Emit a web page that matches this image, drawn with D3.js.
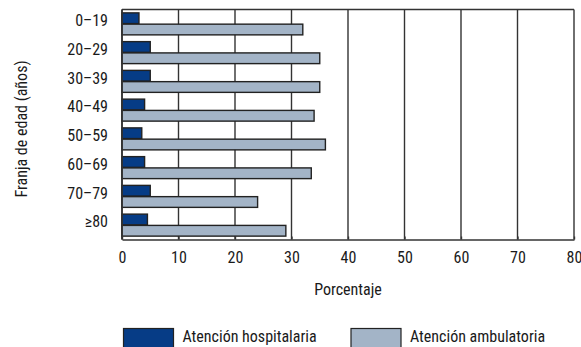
<!DOCTYPE html>
<html><head><meta charset="utf-8">
<script src="https://cdn.jsdelivr.net/npm/d3@7"></script>
<style>
html,body{margin:0;padding:0;background:#fff;}
svg{display:block;}
text{font-family:"Liberation Sans Narrow","Roboto Condensed","Arial Narrow",sans-serif;font-stretch:condensed;fill:#1a1a1a;}
</style></head>
<body>
<svg id="chart" width="581" height="347"></svg>
<script>
const categories = ["0–19","20–29","30–39","40–49","50–59","60–69","70–79","≥80"];
const hospitalaria = [3, 5, 5, 4, 3.5, 4, 5, 4.5];
const ambulatoria = [32, 35, 35, 34, 36, 33.5, 24, 29];
const xTicks = [0,10,20,30,40,50,60,70,80];
const seriesNames = ["Atención hospitalaria","Atención ambulatoria"];
const colors = ["#063c86","#a3b4c7"];

(function(){
const svg = d3.select("#chart");
const pL = 122, pR = 574, pT = 9.5, pB = 239.5;
const x = d3.scaleLinear().domain([0,80]).range([pL,pR]);
const y = d3.scaleBand().domain(categories).range([pT,pB]);
const inner = d3.scaleBand().domain([0,1]).range([0, y.bandwidth()]).paddingOuter(0.3).paddingInner(0.05);
const lineColor = "#333";

svg.append("g").selectAll("line").data(xTicks).join("line")
  .attr("x1", d=>x(d)).attr("x2", d=>x(d)).attr("y1", pT).attr("y2", pB)
  .attr("stroke", lineColor).attr("stroke-width", 1.4);
svg.append("line").attr("x1", pL).attr("x2", pR).attr("y1", pT).attr("y2", pT)
  .attr("stroke", lineColor).attr("stroke-width", 1.4);

const rows = categories.map((c,i)=>({c, v:[hospitalaria[i], ambulatoria[i]]}));
rows.forEach(r=>{
  r.v.forEach((v,j)=>{
    svg.append("rect")
      .attr("x", x(0)).attr("y", y(r.c)+inner(j))
      .attr("width", x(v)-x(0)).attr("height", inner.bandwidth())
      .attr("fill", colors[j]).attr("stroke", "#222").attr("stroke-width", 1.4);
  });
});

const xAxis = svg.append("g").attr("transform", `translate(0,${pB})`)
  .call(d3.axisBottom(x).tickValues(xTicks).tickSize(0).tickPadding(12).tickFormat(d3.format("d")));
xAxis.attr("font-family", null);
xAxis.select(".domain").attr("stroke", lineColor).attr("stroke-width", 1.6);
xAxis.selectAll("text").attr("font-size", 16).attr("fill", "#1a1a1a");
xAxis.selectAll(".tick").append("line").attr("y1", 0).attr("y2", -3).attr("stroke", lineColor).attr("stroke-width", 1.4);

svg.append("g").selectAll("text").data(categories).join("text")
  .attr("x", 108).attr("y", d=>y(d)+16.5).attr("text-anchor","end").attr("font-size", 16).text(d=>d);

svg.append("line").attr("x1", pL).attr("x2", pL).attr("y1", pT).attr("y2", pB)
  .attr("stroke", lineColor).attr("stroke-width", 1.6);

svg.append("text").attr("x", (pL+pR)/2).attr("y", 295).attr("text-anchor","middle")
  .attr("font-size", 16).text("Porcentaje");
svg.append("text").attr("transform", "translate(27,129) rotate(-90)").attr("text-anchor","middle")
  .attr("font-size", 16).text("Franja de edad (años)");

const legX = [123.5, 351];
seriesNames.forEach((n,j)=>{
  svg.append("rect").attr("x", legX[j]).attr("y", 328.5).attr("width", 50).attr("height", 20)
    .attr("fill", colors[j]).attr("stroke", "#222").attr("stroke-width", 1.2);
  svg.append("text").attr("x", legX[j]+59).attr("y", 341.5).attr("font-size", 16).text(n);
});
})();
</script>
</body></html>
